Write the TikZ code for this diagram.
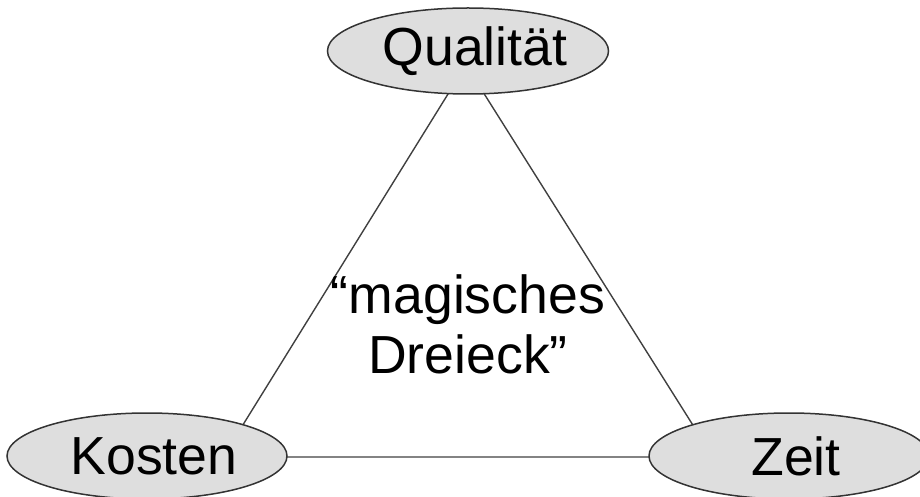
\documentclass[tikz,border=0pt]{standalone}
\usepackage{fontspec}
\setmainfont{Liberation Sans}
\usetikzlibrary{shapes.geometric,backgrounds,calc}
\tikzset{
	oval/.style={ellipse, draw=black!80, line width=0.75pt, fill=black!13, inner sep=0pt, minimum width=140pt, minimum height=43pt, execute at begin node={\hspace*{7pt}}},
	side/.style={line width=0.7pt, color=black!75},
}
\newcommand{\bigtext}{\fontsize{26.8}{30}\selectfont}

\begin{document}
\begin{tikzpicture}[x=0.5pt, y=-0.5pt, font=\bigtext]
		%%%%% START %%%%%
		
		\useasboundingbox (0, 0) rectangle (920, 497);
		
		\node[oval] (qual) at (468, 51) {Qualität};
		\node[oval] (kost) at (147, 456) {Kosten};
		\node[oval] (zeit) at (789, 456) {Zeit};
		
		\node[align=center] (magic) at (468, 324) {“magisches\\Dreieck”};
		
		% corners of the triangle sit inside the ovals
		\coordinate (top) at ($(qual.center)+(-2, 14)$);
		\coordinate (left) at ($(kost.center)+(76, 1)$);
		\coordinate (right) at ($(zeit.center)+(-76, 1)$);
		
		\begin{scope}[on background layer]
			\draw[side] (top) -- (left) -- (right) -- cycle;
		\end{scope}
		
		%%%%% END %%%%%
	\end{tikzpicture}
\end{document}
